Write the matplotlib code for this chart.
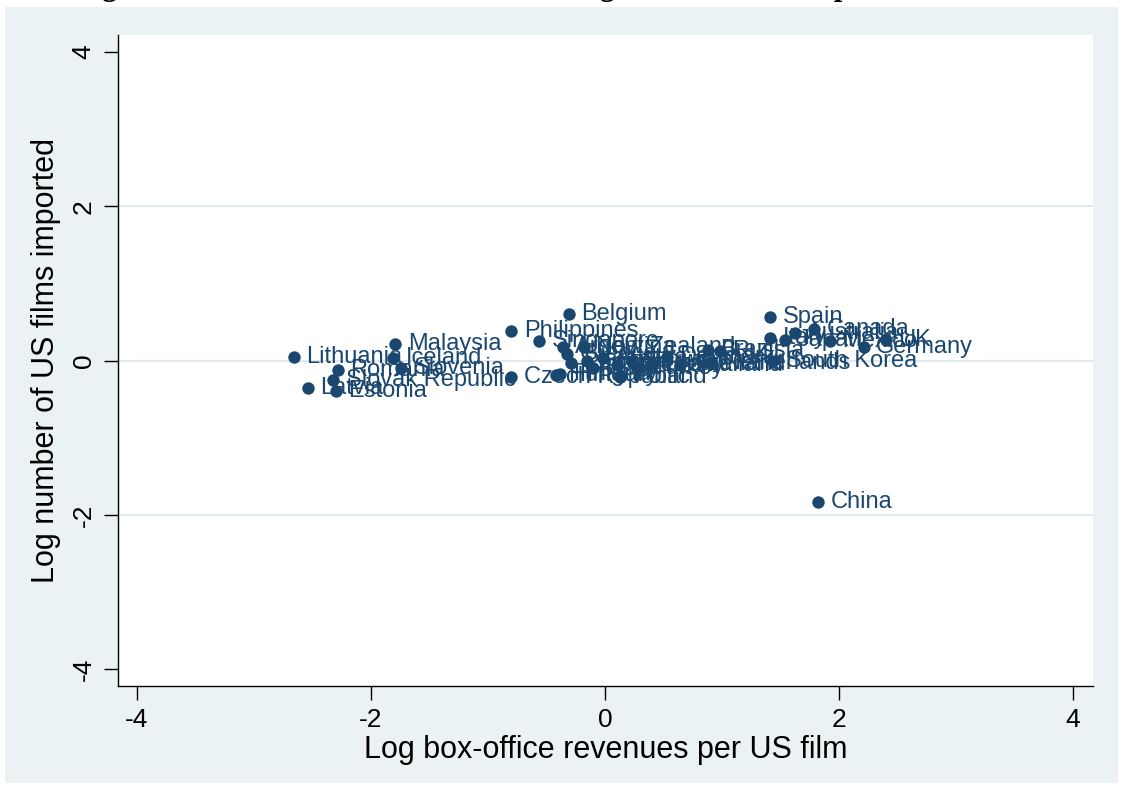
import numpy as np
import matplotlib
matplotlib.use("Agg")
import matplotlib.pyplot as plt
from matplotlib.patches import Rectangle

# log box-office revenue per US film (x) and log number of US films imported (y)
countries = ["Lithuania", "Iceland", "Malaysia", "Romania", "Slovenia",
             "Slovak Republic", "Latvia", "Estonia", "Czech Republic",
             "Philippines", "Belgium", "Singapore",
             "Hungary", "Finland", "Argentina", "Greece", "Portugal",
             "New Zealand", "Israel", "Chile", "Austria", "Sweden", "Poland",
             "Norway", "Turkey", "Switzerland", "Denmark", "Thailand",
             "Brazil", "Russia", "Netherlands", "South Korea",
             "Spain", "Canada", "Australia", "Italy", "Japan", "Mexico",
             "Germany", "UK", "China"]
log_rev = [-2.66, -1.81, -1.79, -2.28, -1.74,
           -2.32, -2.54, -2.30, -0.80,
           -0.80, -0.31, -0.56,
           -0.42, -0.38, -0.36, -0.32, -0.29,
           -0.18, -0.15, -0.10, -0.02, 0.10, 0.13,
           0.23, 0.30, 0.40, 0.53, 0.64,
           0.88, 0.98, 0.90, 1.44,
           1.41, 1.79, 1.62, 1.41, 1.54, 1.92,
           2.21, 2.40, 1.82]
log_films = [0.04, 0.03, 0.22, -0.12, -0.10,
             -0.25, -0.36, -0.40, -0.22,
             0.38, 0.60, 0.25,
             -0.19, -0.18, 0.18, 0.08, -0.03,
             0.18, 0.00, -0.10, 0.03, -0.06, -0.21,
             0.00, -0.10, -0.05, 0.05, -0.06,
             0.13, 0.12, -0.03, -0.01,
             0.56, 0.41, 0.36, 0.29, 0.27, 0.25,
             0.18, 0.26, -1.84]
ticks = [-4, -2, 0, 2, 4]
grid_at = [-2, 0, 2]

navy = "#1A476F"
bg = "#EAF2F3"

fig = plt.figure(figsize=(11.24, 7.89), dpi=100)
fig.patch.set_facecolor("white")
fig.patches.append(Rectangle((5 / 1124, 6 / 789), 1113 / 1124, 776 / 789,
                             transform=fig.transFigure, facecolor=bg,
                             edgecolor="none", zorder=-10))

# cut-off caption from the source document (only its lower edge shows)
fig.text(0.5, 1 + 5 / 789,
         "Figure 4: Intensive versus extensive margins of US film imports, 2001-2006",
         ha="center", va="baseline", fontsize=22, fontweight="bold",
         family="Liberation Serif")

ax = fig.add_axes([118 / 1124, 1 - 686 / 789, 975 / 1124, 651 / 789])
ax.set_facecolor("white")

for g in grid_at:
    ax.axhline(g, color="#DCE6EA", lw=1.2, zorder=0)

ax.scatter(log_rev, log_films, s=80, color=navy, zorder=3, linewidths=0)
for name, x, y in zip(countries, log_rev, log_films):
    ax.annotate(name, (x, y), xytext=(9, 0), textcoords="offset points",
                va="center", ha="left", fontsize=17, color=navy,
                family="Liberation Sans", zorder=4)

ax.set_xlim(-4.16, 4.17)
ax.set_ylim(-4.22, 4.22)
ax.set_xticks(ticks)
ax.set_yticks(ticks)
ax.set_xticklabels([str(t) for t in ticks])
ax.set_yticklabels([str(t) for t in ticks], rotation=90, va="center")

for side in ["top", "right"]:
    ax.spines[side].set_visible(False)
for side in ["left", "bottom"]:
    ax.spines[side].set_linewidth(1.0)
ax.tick_params(direction="out", length=10, width=1, labelsize=19, pad=6)
for lab in ax.get_xticklabels() + ax.get_yticklabels():
    lab.set_family("Liberation Sans")

ax.set_xlabel("Log box-office revenues per US film", fontsize=22,
              family="Liberation Sans", labelpad=2)
ax.set_ylabel("Log number of US films imported", fontsize=22,
              family="Liberation Sans", labelpad=8)

fig.savefig("out.png", dpi=100)
